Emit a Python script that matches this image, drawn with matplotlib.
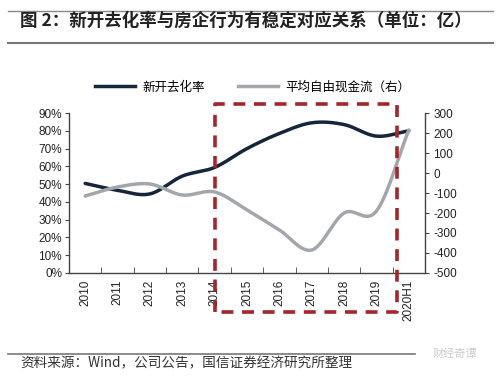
import numpy as np
import matplotlib
matplotlib.use("Agg")
import matplotlib.pyplot as plt
from matplotlib.lines import Line2D
import matplotlib.transforms as mtransforms

plt.rcParams['font.family'] = ['Noto Sans CJK SC', 'DejaVu Sans']

categories = ["2010", "2011", "2012", "2013", "2014", "2015", "2016", "2017", "2018", "2019", "2020H1"]
sell_rate = [50.4, 46.5, 44.5, 54.5, 59.4, 70.0, 78.5, 84.5, 83.5, 77.0, 80.0]   # %
free_cash = [-115, -70, -55, -110, -95, -185, -285, -385, -200, -190, 215]      # 亿
left_ticks = [0, 10, 20, 30, 40, 50, 60, 70, 80, 90]
right_ticks = [-500, -400, -300, -200, -100, 0, 100, 200, 300]
title = "图 2：新开去化率与房企行为有稳定对应关系（单位：亿）"
source = "资料来源：Wind，公司公告，国信证券经济研究所整理"
legend_labels = ["新开去化率", "平均自由现金流（右）"]


def smooth(x, y, n=30):
    x = np.asarray(x, float); y = np.asarray(y, float)
    px = np.concatenate([[2*x[0]-x[1]], x, [2*x[-1]-x[-2]]])
    py = np.concatenate([[2*y[0]-y[1]], y, [2*y[-1]-y[-2]]])
    xs, ys = [], []
    for i in range(1, len(px)-2):
        t = np.linspace(0, 1, n, endpoint=False)
        p0, p1, p2, p3 = (px[i-1], py[i-1]), (px[i], py[i]), (px[i+1], py[i+1]), (px[i+2], py[i+2])
        for k, arr in ((0, xs), (1, ys)):
            a0, a1, a2, a3 = p0[k], p1[k], p2[k], p3[k]
            arr.extend(0.5*((2*a1) + (-a0+a2)*t + (2*a0-5*a1+4*a2-a3)*t**2 + (-a0+3*a1-3*a2+a3)*t**3))
    xs.append(x[-1]); ys.append(y[-1])
    return np.array(xs), np.array(ys)


fig = plt.figure(figsize=(5.0, 3.79), dpi=100)
ax = fig.add_axes([0.138, 0.2797, 0.712, 0.4221])
ax2 = ax.twinx()

x = np.arange(len(categories))
dark = "#15253b"
grey = "#a3a7ab"
sx, sy = smooth(x, sell_rate)
ax.plot(sx, sy, color=dark, lw=2.5, solid_capstyle='round', zorder=3)
gx, gy = smooth(x, free_cash)
ax2.plot(gx, gy, color=grey, lw=2.5, solid_capstyle='round', zorder=2)

ax.set_xlim(-0.5, len(categories) - 0.5)
ax.set_ylim(0, 90)
ax2.set_ylim(-500, 300)
ax.set_yticks(left_ticks)
ax.set_yticklabels([f"{v}%" for v in left_ticks], fontsize=8.5, family='Liberation Sans', color='#222222')
ax2.set_yticks(right_ticks)
ax2.set_yticklabels([str(v) for v in right_ticks], fontsize=8.5, family='Liberation Sans', color='#222222')
ax.set_xticks(x)
ax.set_xticklabels(categories, rotation=90, fontsize=8.5, family='Liberation Sans', color='#222222')
ax.set_xticks(np.arange(0.5, len(categories) - 0.5, 1), minor=True)
ax.tick_params(axis='x', which='major', length=0, pad=5)
ax.tick_params(axis='x', which='minor', length=4, direction='in', color='#444444')
ax.tick_params(axis='y', length=3, color='#444444', pad=2)
ax2.tick_params(axis='y', length=3, color='#444444', pad=3)
for a in (ax, ax2):
    a.spines['top'].set_visible(False)
    for s in ('left', 'right', 'bottom'):
        a.spines[s].set_color('#444444')
        a.spines[s].set_linewidth(1.0)
ax.spines['right'].set_visible(False)
ax2.spines['left'].set_visible(False)
ax2.spines['bottom'].set_visible(False)

# red dashed box
trans = mtransforms.blended_transform_factory(ax.transData, ax.transAxes)
bx0, bx1 = 4.0, 9.65
by0, by1 = -0.244, 1.056
red = "#a3262a"
ax2.plot([bx0, bx0, bx1, bx1, bx0], [by0, by1, by1, by0, by0], transform=trans,
         color=red, lw=2.6, ls=(0, (3.3, 2.4)), clip_on=False, zorder=5)

# legend
handles = [Line2D([], [], color=dark, lw=2.5), Line2D([], [], color=grey, lw=2.5)]
fig.legend(handles, legend_labels, loc='center', bbox_to_anchor=(0.505, 0.77), ncol=2,
           frameon=False, fontsize=9, handlelength=3.2, columnspacing=2.6, handletextpad=0.6)

# title and rules
fig.text(0.04, 0.945, title, fontsize=12.6, fontweight='bold', ha='left', va='center', color='#222222')
fig.add_artist(Line2D([0.016, 0.986], [0.971, 0.971], color='#888888', lw=1.0))
fig.add_artist(Line2D([0.016, 0.986], [0.886, 0.886], color='#777777', lw=1.5))
fig.add_artist(Line2D([0.016, 0.83], [0.066, 0.066], color='#777777', lw=1.2))
fig.text(0.04, 0.042, source, fontsize=9.8, ha='left', va='center', color='#333333')
fig.text(0.955, 0.066, "财经奇谭", fontsize=8, ha='right', va='center', color='#cccccc')

fig.savefig("out.png", dpi=100)
